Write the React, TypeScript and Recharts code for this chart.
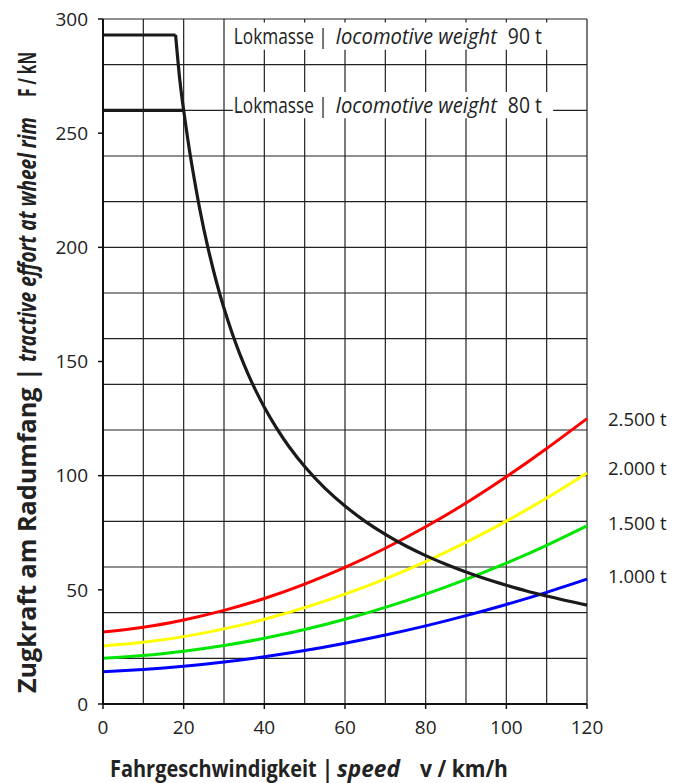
import { LineChart, Line, XAxis, YAxis, CartesianGrid, ReferenceArea } from 'recharts';

const FONT = '"Open Sans", "Noto Sans", sans-serif';
const INK = '#222';

const speedTicks = [0, 20, 40, 60, 80, 100, 120];
const forceTicks = [0, 50, 100, 150, 200, 250, 300];
const gridSpeeds = [0, 10, 20, 30, 40, 50, 60, 70, 80, 90, 100, 110, 120];
const gridForces = [
  0, 10, 20, 30, 40, 50, 60, 70, 80, 90, 100, 110, 120, 130, 140, 150, 160, 170, 180, 190, 200,
  210, 220, 230, 240, 250, 260, 270, 280, 290, 300,
];

// train resistance (kN) over speed (km/h)
const trainSpeeds = [0, 10, 20, 30, 40, 50, 60, 70, 80, 90, 100, 110, 120];
const train2500 = [31.5, 33.6, 36.8, 41.0, 46.2, 52.5, 59.8, 68.2, 77.6, 88.0, 99.5, 111.9, 125.0];
const train2000 = [25.4, 27.0, 29.5, 32.9, 37.1, 42.2, 48.1, 54.8, 62.4, 70.8, 80.1, 90.2, 101.2];
const train1500 = [20.0, 21.2, 23.1, 25.6, 28.8, 32.6, 37.1, 42.3, 48.1, 54.6, 61.7, 69.5, 78.0];
const train1000 = [14.1, 15.1, 16.5, 18.4, 20.7, 23.4, 26.6, 30.2, 34.2, 38.7, 43.6, 48.9, 54.7];

// locomotive tractive effort
const adhesion90Speeds = [0, 18];
const adhesion90Force = [293, 293];
const adhesion80Speeds = [0, 20];
const adhesion80Force = [260, 260];
const powerSpeeds = [
  18, 19, 20, 21, 22, 24, 26, 28, 30, 32, 34, 36, 38, 40, 43, 46, 50, 55, 60, 65, 70, 75, 80, 85,
  90, 95, 100, 105, 110, 115, 120,
];
const powerForce = [
  293, 274, 260, 247.6, 236.4, 216.7, 200, 185.7, 173.3, 162.5, 152.9, 144.4, 136.8, 130, 120.9,
  113, 104, 94.5, 86.7, 80, 74.3, 69.3, 65, 61.2, 57.8, 54.7, 52, 49.5, 47.3, 45.2, 43.3,
];

const toRows = (xs: number[], ys: number[]) => xs.map((v, i) => ({ v, f: ys[i] }));

let canvas: HTMLCanvasElement | null = null;
function fitScale(text: string, font: string, target: number) {
  if (typeof document === 'undefined') return 1;
  if (!canvas) canvas = document.createElement('canvas');
  const ctx = canvas.getContext('2d');
  if (!ctx) return 1;
  ctx.font = font;
  const w = ctx.measureText(text).width;
  return w > 0 ? target / w : 1;
}

// condensed text: natural glyphs squeezed horizontally to a given width
function FitText({ x, y, width, text, size, weight = 400, italic = false, angle = 0 }: any) {
  const font = `${italic ? 'italic ' : ''}${weight} ${size}px "Open Sans"`;
  const s = fitScale(text, font, width);
  return (
    <text
      transform={`translate(${x} ${y}) rotate(${angle}) scale(${s} 1)`}
      fontFamily={FONT}
      fontSize={size}
      fontWeight={weight}
      fontStyle={italic ? 'italic' : 'normal'}
      fill={INK}
    >
      {text}
    </text>
  );
}

const endLabel = (text: string, dy: number, last: number) => (props: any) => {
  if (props.index !== last) return null;
  return (
    <text x={props.x + 21} y={props.y + dy} fontSize={18.5} fill={INK} fontFamily={FONT}>
      {text}
    </text>
  );
};

function LocoLabel({ viewBox, mass }: any) {
  if (!viewBox) return null;
  const { x, y, height } = viewBox;
  const base = y + height / 2 + 8;
  return (
    <g>
      <FitText x={x + 1} y={base} width={94} text="Lokmasse |" size={22} />
      <FitText x={x + 103} y={base} width={161} text="locomotive weight" size={22} italic />
      <FitText x={x + 275} y={base} width={34} text={`${mass} t`} size={22} />
    </g>
  );
}

function YTitle({ viewBox }: any) {
  if (!viewBox) return null;
  const bx = viewBox.x + 36;
  const bottom = viewBox.y + viewBox.height - 11;
  return (
    <g>
      <FitText x={bx} y={bottom} width={326} text="Zugkraft am Radumfang |" size={25} weight={700} angle={-90} />
      <FitText x={bx} y={bottom - 331} width={245} text="tractive effort at wheel rim" size={25} weight={700} italic angle={-90} />
      <FitText x={bx} y={bottom - 596} width={45} text="F / kN" size={25} weight={700} angle={-90} />
    </g>
  );
}

function XTitle({ viewBox }: any) {
  if (!viewBox) return null;
  const base = viewBox.y + 73;
  const left = viewBox.x + 7;
  return (
    <g>
      <FitText x={left} y={base} width={223} text="Fahrgeschwindigkeit |" size={24} weight={700} />
      <FitText x={left + 227} y={base} width={63} text="speed" size={24} weight={700} italic />
      <FitText x={left + 310} y={base} width={88} text="v / km/h" size={24} weight={700} />
    </g>
  );
}

export default function App() {
  const last = trainSpeeds.length - 1;
  const tick = { fontSize: 19, fill: INK, fontFamily: FONT };
  return (
    <div style={{ position: 'absolute', left: 0, top: 0, width: 687, height: 783, background: '#fff' }}>
      <LineChart width={687} height={783} margin={{ top: 19, right: 100, left: 0, bottom: 0 }}>
        <CartesianGrid
          horizontalValues={gridForces}
          verticalValues={gridSpeeds}
          stroke="#222"
          strokeWidth={1.2}
        />
        <XAxis
          type="number"
          dataKey="v"
          domain={[0, 120]}
          ticks={speedTicks}
          height={79}
          axisLine={{ stroke: '#111', strokeWidth: 2 }}
          tickLine={{ stroke: '#111', strokeWidth: 1.5 }}
          tickSize={5}
          tickMargin={12}
          tick={tick}
          label={{ content: (p: any) => <XTitle {...p} /> }}
        />
        <YAxis
          type="number"
          domain={[0, 300]}
          ticks={forceTicks}
          width={103}
          axisLine={{ stroke: '#111', strokeWidth: 2 }}
          tickLine={{ stroke: '#111', strokeWidth: 1.5 }}
          tickSize={5}
          tickMargin={10}
          tick={tick}
          label={{ content: (p: any) => <YTitle {...p} /> }}
        />
        <ReferenceArea
          x1={32.2}
          x2={111.6}
          y1={286.5}
          y2={298.5}
          fill="#fff"
          fillOpacity={1}
          stroke="none"
          label={{ content: (p: any) => <LocoLabel {...p} mass={90} /> }}
        />
        <ReferenceArea
          x1={32.2}
          x2={111.6}
          y1={256.5}
          y2={268}
          fill="#fff"
          fillOpacity={1}
          stroke="none"
          label={{ content: (p: any) => <LocoLabel {...p} mass={80} /> }}
        />
        <Line data={toRows(trainSpeeds, train2500)} dataKey="f" type="natural" stroke="#ff0000" strokeWidth={3} dot={false} isAnimationActive={false} label={endLabel('2.500 t', 7, last)} />
        <Line data={toRows(trainSpeeds, train2000)} dataKey="f" type="natural" stroke="#ffff00" strokeWidth={3} dot={false} isAnimationActive={false} label={endLabel('2.000 t', 2.5, last)} />
        <Line data={toRows(trainSpeeds, train1500)} dataKey="f" type="natural" stroke="#00e600" strokeWidth={3} dot={false} isAnimationActive={false} label={endLabel('1.500 t', 4, last)} />
        <Line data={toRows(trainSpeeds, train1000)} dataKey="f" type="natural" stroke="#0000ff" strokeWidth={3} dot={false} isAnimationActive={false} label={endLabel('1.000 t', 4, last)} />
        <Line data={toRows(adhesion90Speeds, adhesion90Force)} dataKey="f" type="linear" stroke="#1a1a1a" strokeWidth={3.2} dot={false} isAnimationActive={false} />
        <Line data={toRows(adhesion80Speeds, adhesion80Force)} dataKey="f" type="linear" stroke="#1a1a1a" strokeWidth={3.2} dot={false} isAnimationActive={false} />
        <Line data={toRows(powerSpeeds, powerForce)} dataKey="f" type="natural" stroke="#1a1a1a" strokeWidth={3.2} dot={false} isAnimationActive={false} />
      </LineChart>
    </div>
  );
}
